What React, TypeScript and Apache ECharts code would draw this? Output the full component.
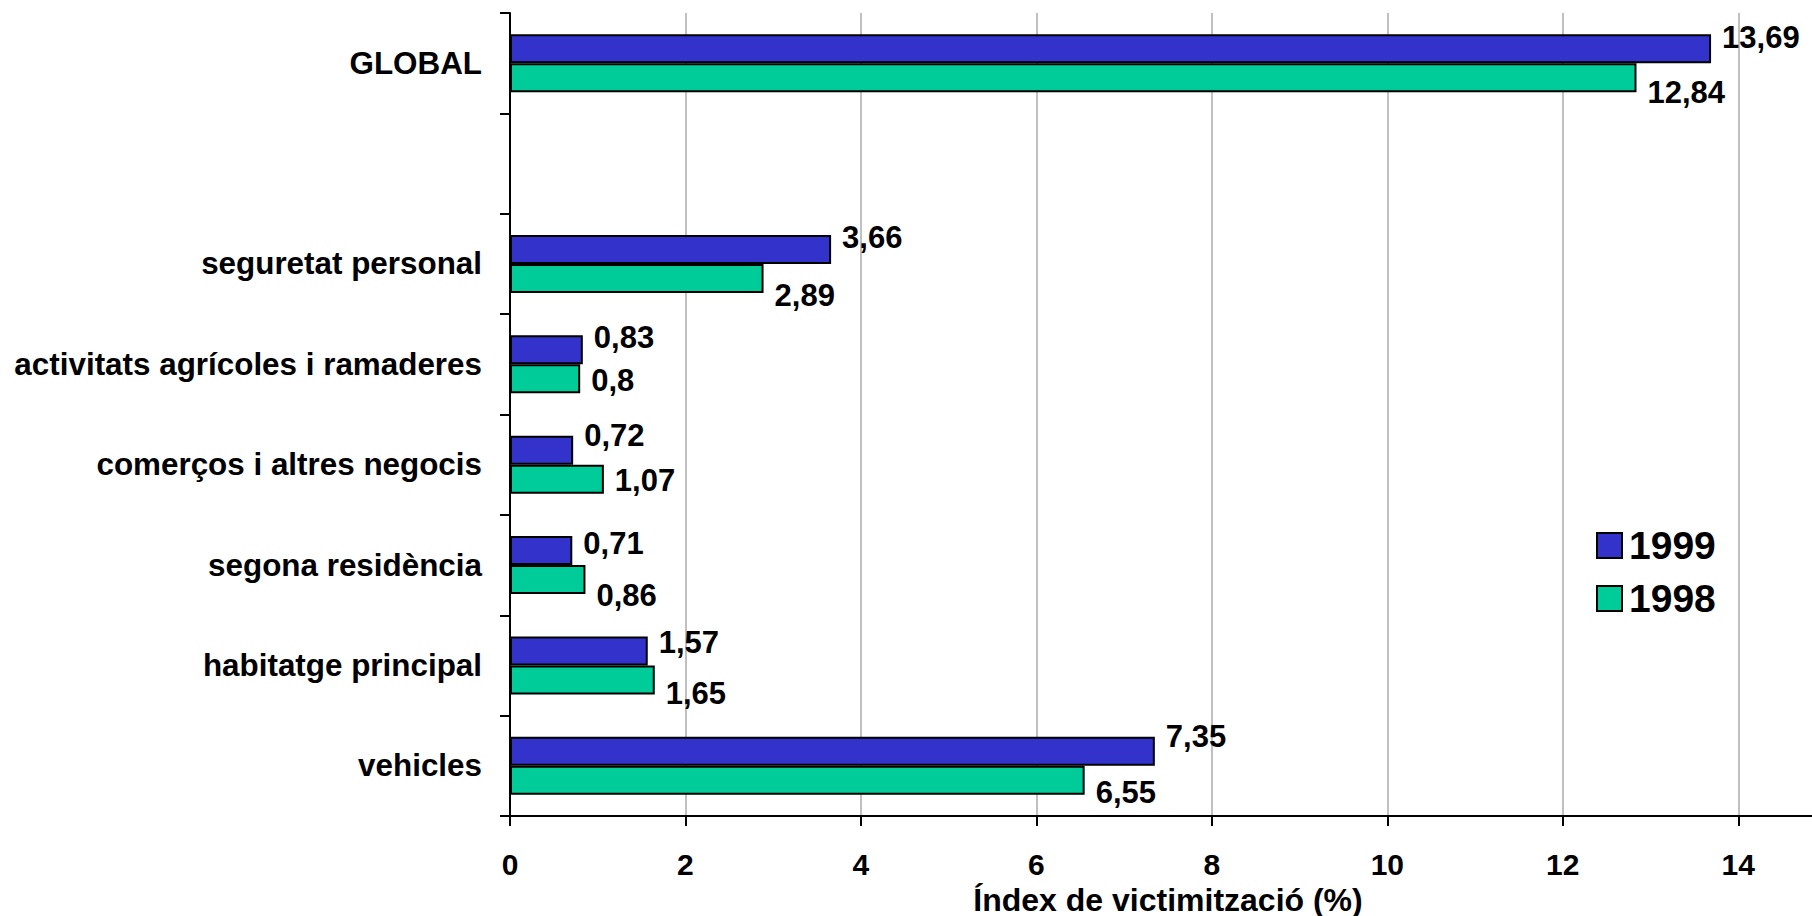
import React, { useEffect, useRef } from "react";
import * as echarts from "echarts";

const categories = [
  "GLOBAL",
  "",
  "seguretat personal",
  "activitats agrícoles i ramaderes",
  "comerços i altres negocis",
  "segona residència",
  "habitatge principal",
  "vehicles",
];
const values1999: (number | null)[] = [13.69, null, 3.66, 0.83, 0.72, 0.71, 1.57, 7.35];
const values1998: (number | null)[] = [12.84, null, 2.89, 0.8, 1.07, 0.86, 1.65, 6.55];
const seriesNames = ["1999", "1998"];
const xTicks = [0, 2, 4, 6, 8, 10, 12, 14];

// label vertical nudges (style only)
const labelDy1999 = [-11, 0, -11.5, -12.5, -14.5, -7.5, -8, -14.5];
const labelDy1998 = [14.5, 0, 17, 1.5, 1.5, 15.5, 13.5, 12.5];

const FONT = "'Liberation Sans', Arial, Helvetica, sans-serif";
const fmt = (v: number) => String(v).replace(".", ",");

function buildData(vals: (number | null)[], dy: number[]) {
  return vals.map((v, i) =>
    v === null
      ? "-"
      : {
          value: v,
          label: { offset: [0, dy[i]] },
        }
  );
}

export default function App() {
  const ref = useRef<HTMLDivElement>(null);
  useEffect(() => {
    if (!ref.current) return;
    const chart = echarts.init(ref.current, null, { renderer: "svg" });
    const labelBase = {
      show: true,
      position: "right",
      distance: 11,
      color: "#000",
      fontFamily: FONT,
      fontWeight: "bold",
      fontSize: 31,
      formatter: (p: any) => fmt(p.value),
    };
    chart.setOption({
      animation: false,
      backgroundColor: "#fff",
      textStyle: { fontFamily: FONT },
      grid: {
        left: 510,
        top: 13,
        width: 1316,
        height: 803,
        containLabel: false,
        outerBoundsMode: "none",
      },
      legend: {
        orient: "vertical",
        left: 1591,
        top: 521,
        icon: "rect",
        itemWidth: 25,
        itemHeight: 25,
        itemGap: 14,
        data: seriesNames,
        textStyle: {
          fontFamily: FONT,
          fontWeight: "bold",
          fontSize: 39,
          lineHeight: 39,
          color: "#000",
          padding: [0, 0, 0, 2],
        },
      },
      xAxis: {
        type: "value",
        min: xTicks[0],
        max: 15,
        interval: xTicks[1] - xTicks[0],
        name: "Índex de victimització (%)",
        nameLocation: "middle",
        nameGap: 53,
        nameTextStyle: {
          fontFamily: FONT,
          fontWeight: "bold",
          fontSize: 32,
          lineHeight: 32,
          color: "#000",
        },
        axisLine: { show: true, lineStyle: { color: "#000", width: 2 } },
        axisTick: { show: true, length: 10, lineStyle: { color: "#000", width: 2 } },
        axisLabel: {
          margin: 33,
          showMaxLabel: false,
          fontFamily: FONT,
          fontWeight: "bold",
          fontSize: 30,
          color: "#000",
          formatter: (v: number) => (xTicks.includes(v) ? String(v) : ""),
        },
        splitLine: { show: true, lineStyle: { color: "#c0c0c0", width: 2 } },
      },
      yAxis: {
        type: "category",
        inverse: true,
        data: categories,
        axisLine: { show: true, lineStyle: { color: "#000", width: 2 } },
        axisTick: { show: true, length: 10, lineStyle: { color: "#000", width: 2 } },
        axisLabel: {
          margin: 28,
          fontFamily: FONT,
          fontWeight: "bold",
          fontSize: 31.4,
          color: "#000",
        },
        splitLine: { show: false },
      },
      series: [
        {
          name: seriesNames[0],
          type: "bar",
          barWidth: 29,
          barGap: "0%",
          itemStyle: { color: "#3333CC", borderColor: "#000", borderWidth: 2 },
          label: labelBase,
          data: buildData(values1999, labelDy1999),
        },
        {
          name: seriesNames[1],
          type: "bar",
          barWidth: 29,
          barGap: "0%",
          itemStyle: { color: "#00CC99", borderColor: "#000", borderWidth: 2 },
          label: labelBase,
          data: buildData(values1998, labelDy1998),
        },
      ],
    });
    return () => chart.dispose();
  }, []);
  return (
    <div
      ref={ref}
      style={{ position: "absolute", left: 0, top: 0, width: 1812, height: 916 }}
    />
  );
}
